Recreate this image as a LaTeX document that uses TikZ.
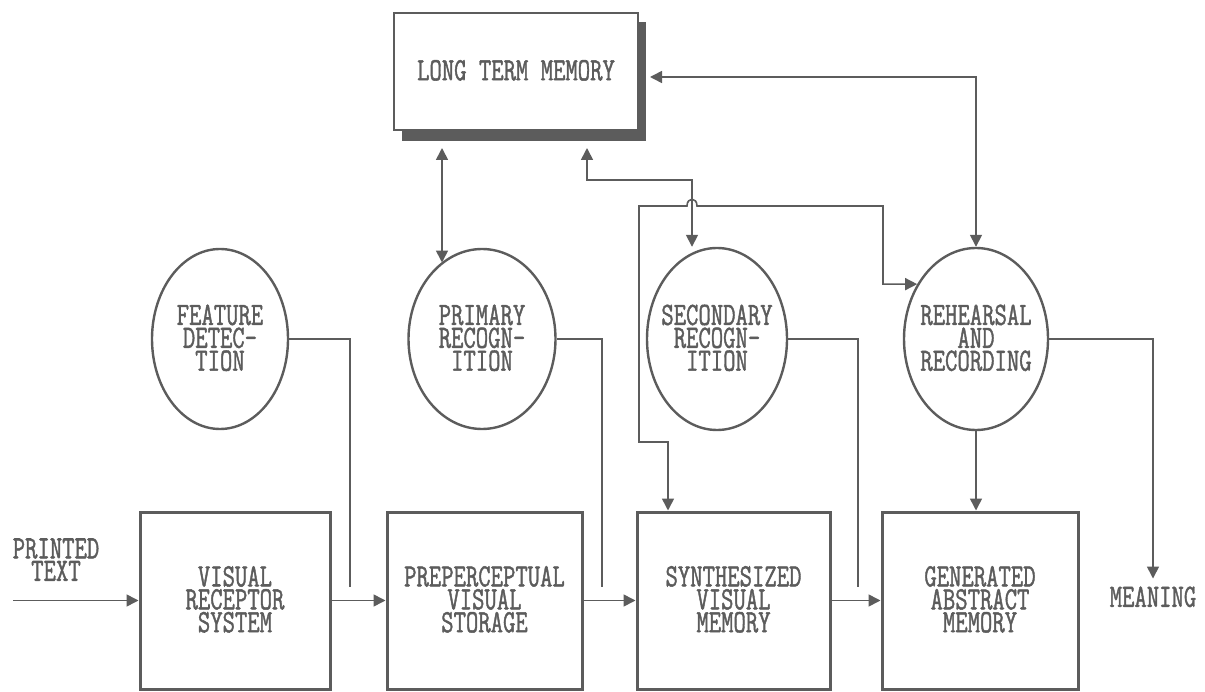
\documentclass[tikz,border=0pt]{standalone}
\usepackage{fontspec}
\newfontfamily\dotfont{Latin Modern Mono}[FakeBold=1.6]
\usepackage{graphicx}
\usetikzlibrary{arrows.meta,shapes.geometric,calc}
\definecolor{ink}{gray}{0.36}
\newcommand{\tl}[1]{\makebox[0pt]{\scalebox{1}[1.35]{\dotfont\fontsize{24}{16.7}\selectfont\renewcommand{\arraystretch}{0.4}\begin{tabular}{@{}c@{}}#1\end{tabular}}}}
\tikzset{
  procbox/.style={draw=ink, line width=3pt, minimum height=177pt, inner sep=0pt, text=ink},
  oval/.style={ellipse, draw=ink, line width=2.4pt, inner sep=0pt, text=ink},
  conn/.style={draw=ink, line width=1.6pt},
  tip/.style={},
  arr/.style={conn, -{Triangle[length=12pt,width=12pt]}},
  both/.style={conn, {Triangle[length=12pt,width=12pt]}-{Triangle[length=12pt,width=12pt]}},
  plain/.style={text=ink, inner sep=0pt}
}
\begin{document}
\begin{tikzpicture}[x=1pt,y=-1pt]
\useasboundingbox (0,0) rectangle (1205,692);
% long term memory with shadow
\fill[ink] (402,22) rectangle (646,141);
\node[draw=ink, fill=white, line width=2pt, minimum width=244pt, minimum height=117pt, inner sep=0pt, text=ink] (ltm) at (516,71.5) {\tl{LONG TERM MEMORY}};
% processing boxes
\node[procbox, minimum width=190pt] (vis) at (235,600.5) {\tl{VISUAL\\RECEPTOR\\SYSTEM}};
\node[procbox, minimum width=195pt] (pre) at (484.5,600.5) {\tl{PREPERCEPTUAL\\VISUAL\\STORAGE}};
\node[procbox, minimum width=193pt] (syn) at (733.5,600.5) {\tl{SYNTHESIZED\\VISUAL\\MEMORY}};
\node[procbox, minimum width=196pt] (gen) at (980,600.5) {\tl{GENERATED\\ABSTRACT\\MEMORY}};
% ovals
\node[oval, minimum width=136pt, minimum height=180pt] (feat) at (220,339) {\tl{FEATURE\\DETEC-\\TION}};
\node[oval, minimum width=147pt, minimum height=180pt] (prim) at (482,339) {\tl{PRIMARY\\RECOGN-\\ITION}};
\node[oval, minimum width=140pt, minimum height=182pt] (sec) at (717,339) {\tl{SECONDARY\\RECOGN-\\ITION}};
\node[oval, minimum width=144pt, minimum height=182pt] (reh) at (976,339) {\tl{REHEARSAL\\AND\\RECORDING}};
% free labels
\node[plain] (printed) at (56,561) {\tl{PRINTED\\TEXT}};
\node[plain, outer sep=8pt] (meaning) at (1153,598) {\tl{MEANING}};
% coordinates
\coordinate (pt) at (13,600.5);
\coordinate (fd) at (350,587);
\coordinate (pd) at (602,587);
\coordinate (sd) at (858,587);
\coordinate (ltmR) at (650,77);
\coordinate (ltmP) at (442,148);
\coordinate (ltmS) at (587,148);
\coordinate (kS) at (692,180);
\coordinate (fb1) at (668,442);
\coordinate (fb2) at (639,442);
\coordinate (fb3) at (639,206);
\coordinate (fb4) at (883,206);
% main flow
\draw[arr] (pt) -- (vis.west);
\draw[arr] (vis.east) -- (pre.west);
\draw[arr] (pre.east) -- (syn.west);
\draw[arr] (syn.east) -- (gen.west);
% oval outputs
\draw[conn] (feat.east) -| (fd);
\draw[conn] (prim.east) -| (pd);
\draw[conn] (sec.east) -| (sd);
\draw[arr] (reh.east) -| (meaning.north);
\draw[arr] (reh.south) -- (reh.south |- gen.north);
% long term memory links
\draw[both] (ltmR) -| (reh.north);
\draw[both] (ltmP) -- (ltmP |- prim.118);
\draw[both] (ltmS) |- (kS) -- (kS |- sec.north);
% feedback line with hop
\draw[both] (fb1 |- syn.north) -- (fb1) -- (fb2) -- (fb3) -- (687,206) .. controls (687,197) and (697,197) .. (697,206) -- (fb4) |- (reh.137);
\end{tikzpicture}
\end{document}
